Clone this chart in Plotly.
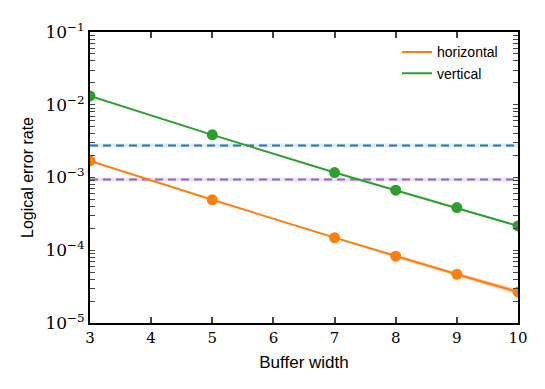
import plotly.graph_objects as go

# buffer widths and logical error rates
widths = [3, 5, 7, 8, 9, 10]
horizontal = [1.69e-3, 4.94e-4, 1.49e-4, 8.3e-5, 4.68e-5, 2.67e-5]
vertical = [1.32e-2, 3.86e-3, 1.17e-3, 6.7e-4, 3.86e-4, 2.16e-4]

# uncertainty band on the horizontal fit
band_hi = [1.72e-3, 5.0e-4, 1.53e-4, 8.7e-5, 4.95e-5, 2.9e-5]
band_lo = [1.66e-3, 4.88e-4, 1.45e-4, 7.9e-5, 4.42e-5, 2.45e-5]

# reference levels (dashed)
ref_blue = 2.75e-3
ref_purple = 9.4e-4

y_ticks = [1e-5, 1e-4, 1e-3, 1e-2, 1e-1]
y_labels = ['10<sup>−5</sup>', '10<sup>−4</sup>', '10<sup>−3</sup>', '10<sup>−2</sup>', '10<sup>−1</sup>']
x_ticks = [3, 4, 5, 6, 7, 8, 9, 10]

orange = '#ff7f0e'
green = '#2ca02c'
blue = '#1f77b4'
purple = '#9467bd'

fig = go.Figure()

# dashed reference lines with a faint halo
for lvl, col, halo in [(ref_blue, blue, 'rgba(31,119,180,0.15)'),
                       (ref_purple, purple, 'rgba(148,103,189,0.2)')]:
    fig.add_trace(go.Scatter(x=[3, 10], y=[lvl, lvl], mode='lines',
                             line=dict(color=halo, width=4), showlegend=False, hoverinfo='skip'))
    fig.add_trace(go.Scatter(x=[3, 10], y=[lvl, lvl], mode='lines',
                             line=dict(color=col, width=2, dash='8px,5px'), showlegend=False))

# band
fig.add_trace(go.Scatter(x=widths, y=band_hi, mode='lines', line=dict(width=0),
                         showlegend=False, hoverinfo='skip'))
fig.add_trace(go.Scatter(x=widths, y=band_lo, mode='lines', line=dict(width=0),
                         fill='tonexty', fillcolor='rgba(255,127,14,0.35)',
                         showlegend=False, hoverinfo='skip'))

for name, vals, col in [('horizontal', horizontal, orange), ('vertical', vertical, green)]:
    fig.add_trace(go.Scatter(x=widths, y=vals, mode='lines', name=name,
                             line=dict(color=col, width=2)))
    fig.add_trace(go.Scatter(x=widths, y=vals, mode='markers', showlegend=False,
                             marker=dict(color=col, size=11)))

# major + minor log ticks, labels only on the decades
all_ticks, all_text = [], []
for e in range(-5, 0):
    all_ticks.append(10.0 ** e)
    all_text.append(y_labels[e + 5])
    if e < -1:
        for m in range(2, 10):
            all_ticks.append(m * 10.0 ** e)
            all_text.append('')

fig.update_layout(
    width=545, height=389,
    margin=dict(l=82, r=35, t=14, b=74),
    plot_bgcolor='white', paper_bgcolor='white',
    font=dict(family='Liberation Sans', size=14, color='black'),
    legend=dict(x=0.965, y=0.985, xanchor='right', yanchor='top', traceorder='normal',
                bgcolor='rgba(0,0,0,0)', font=dict(size=14)),
    xaxis=dict(
        range=[3, 10], tickvals=x_ticks,
        ticks='inside', ticklen=6, tickwidth=1.5, showline=True, linecolor='black',
        linewidth=2, mirror='allticks', showgrid=False, zeroline=False,
        tickfont=dict(family='DejaVu Serif', size=15),
        title=dict(text='Buffer width', standoff=10),
    ),
    yaxis=dict(
        type='log', range=[-5, -1], tickvals=all_ticks, ticktext=all_text,
        ticks='inside', ticklen=5, tickwidth=1.2, showline=True, linecolor='black',
        linewidth=2, mirror='allticks', showgrid=False, zeroline=False,
        tickfont=dict(family='DejaVu Serif', size=17),
        title=dict(text='Logical error rate', standoff=8, font=dict(size=16)),
    ),
)

fig.write_html("out.html")
